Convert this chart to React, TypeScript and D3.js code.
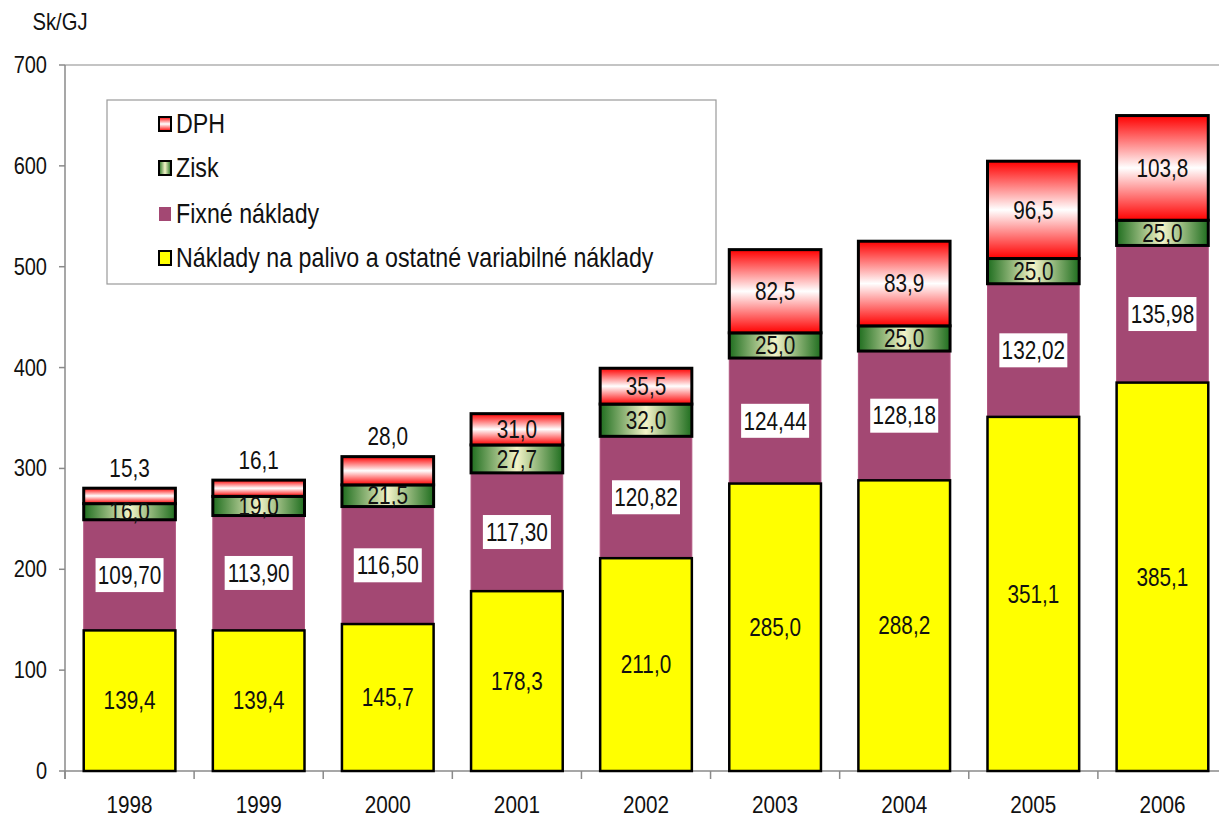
import React, { useRef, useEffect } from 'react';
import * as d3 from 'd3';

const years = ['1998', '1999', '2000', '2001', '2002', '2003', '2004', '2005', '2006'];
const palivo = [139.4, 139.4, 145.7, 178.3, 211.0, 285.0, 288.2, 351.1, 385.1];
const fixne = [109.7, 113.9, 116.5, 117.3, 120.82, 124.44, 128.18, 132.02, 135.98];
const zisk = [16.0, 19.0, 21.5, 27.7, 32.0, 25.0, 25.0, 25.0, 25.0];
const dph = [15.3, 16.1, 28.0, 31.0, 35.5, 82.5, 83.9, 96.5, 103.8];
const yTicks = [0, 100, 200, 300, 400, 500, 600, 700];
const legendItems = ['DPH', 'Zisk', 'Fixné náklady', 'Náklady na palivo a ostatné variabilné náklady'];

const W = 1219;
const H = 820;
const FONT = "'Liberation Sans', Arial, sans-serif";

const App = () => {
  const ref = useRef<SVGSVGElement>(null);

  useEffect(() => {
    const svg = d3.select(ref.current);
    svg.selectAll('*').remove();

    const x = d3.scaleBand().domain(years).range([65, 1227]).paddingInner(0.29).paddingOuter(0.145);
    const y = d3.scaleLinear().domain([0, 700]).range([771, 65]);
    const step = x.step();

    const defs = svg.append('defs');
    const red = defs.append('linearGradient').attr('id', 'gRed').attr('x1', 0).attr('y1', 0).attr('x2', 0).attr('y2', 1);
    red.append('stop').attr('offset', '0%').attr('stop-color', '#ff0000');
    red.append('stop').attr('offset', '50%').attr('stop-color', '#ffffff');
    red.append('stop').attr('offset', '100%').attr('stop-color', '#ff0000');
    const green = defs.append('linearGradient').attr('id', 'gGreen').attr('x1', 0).attr('y1', 0).attr('x2', 1).attr('y2', 0);
    green.append('stop').attr('offset', '0%').attr('stop-color', '#1f6e1f');
    green.append('stop').attr('offset', '50%').attr('stop-color', '#f4f4c8');
    green.append('stop').attr('offset', '100%').attr('stop-color', '#1f6e1f');

    // text helper: the fonts in the picture are a bit condensed
    const text = (g: any, tx: number, ty: number, s: string, size = 25, anchor = 'middle', sx = 0.83) =>
      g.append('text')
        .attr('transform', `translate(${tx},${ty}) scale(${sx},1)`)
        .attr('text-anchor', anchor)
        .attr('dy', '0.35em')
        .attr('font-family', FONT)
        .attr('font-size', size)
        .attr('fill', '#111')
        .text(s);

    const fmt = (v: number, d: number) => v.toFixed(d).replace('.', ',');

    // axes
    const axis = svg.append('g').attr('stroke', '#8a8a8a').attr('stroke-width', 1.5);
    axis.append('line').attr('x1', 65).attr('x2', 65).attr('y1', y(700)).attr('y2', y(0) + 8);
    axis.append('line').attr('x1', 65).attr('x2', W).attr('y1', y(700)).attr('y2', y(700)).attr('stroke-width', 1.2);
    axis.append('line').attr('x1', 65).attr('x2', W).attr('y1', y(0)).attr('y2', y(0));
    yTicks.forEach(t => {
      axis.append('line').attr('x1', 59).attr('x2', 65).attr('y1', y(t)).attr('y2', y(t));
      text(svg, 47, y(t), String(t), 23, 'end', 0.87);
    });
    d3.range(years.length + 1).forEach(i => {
      axis.append('line').attr('x1', 65 + i * step).attr('x2', 65 + i * step).attr('y1', y(0)).attr('y2', y(0) + 8);
    });
    years.forEach(yr => text(svg, x(yr)! + x.bandwidth() / 2, 805, yr, 23, 'middle', 0.9));
    text(svg, 60, 22, 'Sk/GJ', 23, 'middle', 0.88);

    // bars
    const bw = x.bandwidth();
    years.forEach((yr, i) => {
      const bx = x(yr)!;
      const cx = bx + bw / 2;
      const b0 = 0;
      const b1 = palivo[i];
      const b2 = b1 + fixne[i];
      const b3 = b2 + zisk[i];
      const b4 = b3 + dph[i];

      svg.append('rect').attr('x', bx).attr('y', y(b2)).attr('width', bw).attr('height', y(b1) - y(b2))
        .attr('fill', '#a34873').attr('stroke', '#b0557f').attr('stroke-width', 1);
      svg.append('rect').attr('x', bx).attr('y', y(b1)).attr('width', bw).attr('height', y(b0) - y(b1))
        .attr('fill', '#ffff00').attr('stroke', '#000').attr('stroke-width', 2.5);
      svg.append('rect').attr('x', bx).attr('y', y(b3)).attr('width', bw).attr('height', y(b2) - y(b3))
        .attr('fill', 'url(#gGreen)').attr('stroke', '#000').attr('stroke-width', 3);
      svg.append('rect').attr('x', bx).attr('y', y(b4)).attr('width', bw).attr('height', y(b3) - y(b4))
        .attr('fill', 'url(#gRed)').attr('stroke', '#000').attr('stroke-width', 3);

      text(svg, cx, y((b0 + b1) / 2), fmt(palivo[i], 1));
      const fy = y((b1 + b2) / 2);
      svg.append('rect').attr('x', cx - 34).attr('y', fy - 17).attr('width', 68).attr('height', 34).attr('fill', '#fff');
      text(svg, cx, fy, fmt(fixne[i], 2));
      text(svg, cx, y((b2 + b3) / 2), fmt(zisk[i], 1));
      const dy = dph[i] < 30 ? y(b4) - 20 : y((b3 + b4) / 2);
      text(svg, cx, dy, fmt(dph[i], 1));
    });

    // legend
    const lg = svg.append('g');
    lg.append('rect').attr('x', 107).attr('y', 100).attr('width', 609).attr('height', 184)
      .attr('fill', '#fff').attr('stroke', '#9a9a9a').attr('stroke-width', 1.2);
    const swatch = ['url(#gRed)', 'url(#gGreen)', '#a34873', '#ffff00'];
    const ly = [124, 168, 214, 258];
    legendItems.forEach((s, i) => {
      lg.append('rect').attr('x', 159).attr('y', ly[i] - 7).attr('width', 12).attr('height', 14)
        .attr('fill', swatch[i]).attr('stroke', i === 2 ? 'none' : '#000').attr('stroke-width', 2);
      text(lg, 176, ly[i], s, 27, 'start', 0.86);
    });
  }, []);

  return (
    <svg ref={ref} width={W} height={H} style={{ position: 'absolute', left: 0, top: 0, background: '#fff' }} />
  );
};

export default App;
